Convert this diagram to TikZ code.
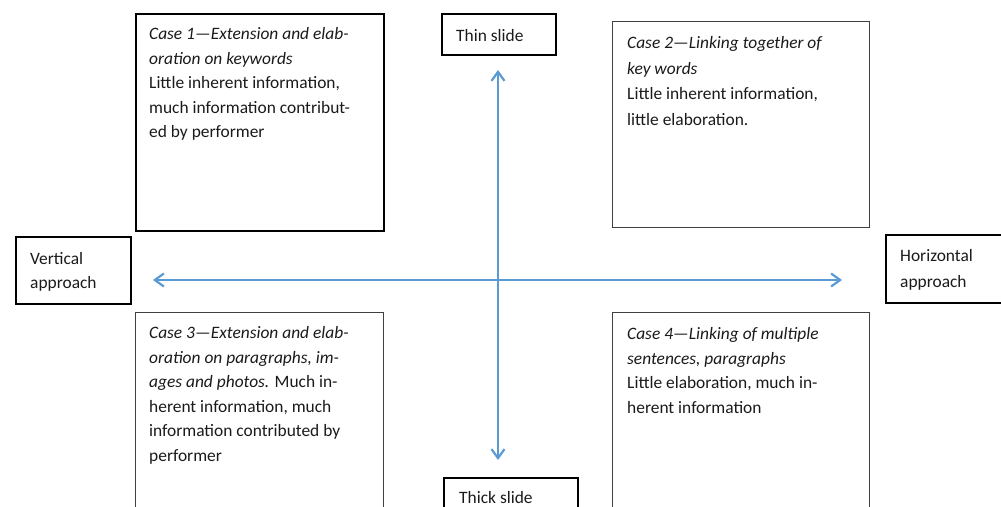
\documentclass[tikz,border=0pt]{standalone}
\usepackage{fontspec}
\setmainfont{Carlito}
\usetikzlibrary{arrows.meta}
\definecolor{axisblue}{HTML}{5B9BD5}
\definecolor{txt}{HTML}{1A1A1A}
\tikzset{
  boxdark/.style={draw=black, line width=1.6pt, inner sep=0pt, anchor=north west},
  boxlight/.style={draw=black!75, line width=1.1pt, inner sep=0pt, anchor=north west},
  % anchored at the baseline of the LAST line of the text
  txtnode/.style={inner sep=0pt, anchor=base west, align=left, text=txt,
    font=\fontsize{17.4pt}{24.5pt}\selectfont},
  widetxt/.style={txtnode, font=\fontsize{17.4pt}{25.7pt}\selectfont},
  axis/.style={draw=axisblue, line width=2.2pt,
    {Straight Barb[length=9pt,width=13pt,line width=2.2pt]}-{Straight Barb[length=9pt,width=13pt,line width=2.2pt]}}
}
\begin{document}
\begin{tikzpicture}[x=1pt,y=-1pt]
\useasboundingbox (0,0) rectangle (1001,506);
\clip (0,0) rectangle (1001,506);
% boxes
\node[boxdark, minimum width=248pt, minimum height=217pt] (c1) at (135,13) {};
\node[boxlight, minimum width=257pt, minimum height=206pt] (c2) at (612,21) {};
\node[boxlight, minimum width=248pt, minimum height=220pt] (c3) at (135,312) {};
\node[boxlight, minimum width=257pt, minimum height=220pt] (c4) at (612,312) {};
\node[boxdark, minimum width=115pt, minimum height=67pt] (va) at (15,236) {};
\node[boxdark, minimum width=130pt, minimum height=68pt] (ha) at (885,234) {};
\node[boxdark, minimum width=114pt, minimum height=41pt] (ts) at (441,13) {};
\node[boxdark, minimum width=134pt, minimum height=60pt] (ks) at (443,477) {};
% texts
\node[txtnode] (c1t) at (149,137.5) {\textit{Case 1---Extension and elab-}\\\textit{oration on keywords}\\Little inherent information,\\much information contribut-\\ed by performer};
\node[widetxt] (c2t) at (627,125.5) {\textit{Case 2---Linking together of}\\\textit{key words}\\Little inherent information,\\little elaboration.};
\node[txtnode] (c3t) at (149,461) {\textit{Case 3---Extension and elab-}\\\textit{oration on paragraphs, im-}\\\textit{ages and photos.} Much in-\\herent information, much\\information contributed by\\performer};
\node[txtnode] (c4t) at (627,413) {\textit{Case 4---Linking of multiple}\\\textit{sentences, paragraphs}\\Little elaboration, much in-\\herent information};
\node[txtnode] (vat) at (30,288.5) {Vertical\\approach};
\node[widetxt] (hat) at (900,287.5) {Horizontal\\approach};
\node[txtnode] (tst) at (456,41) {Thin slide};
\node[txtnode] (kst) at (459,503) {Thick slide};
% axes
\coordinate (top) at (498,70);
\coordinate (bot) at (498,460);
\coordinate (lft) at (153,280);
\coordinate (rgt) at (842,280);
\draw[axis] (bot) -- (top);
\draw[axis] (lft) -- (rgt);
\end{tikzpicture}
\end{document}
